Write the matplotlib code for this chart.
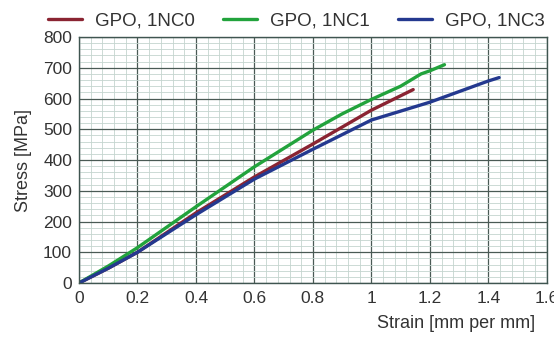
import matplotlib
matplotlib.use("Agg")
import matplotlib.pyplot as plt
from matplotlib.ticker import MultipleLocator

# strain / stress readings per specimen
strain_nc0 = [0, 0.1, 0.2, 0.4, 0.6, 0.8, 1.0, 1.143]
stress_nc0 = [0, 48, 100, 228, 345, 452, 562, 629]

strain_nc1 = [0, 0.1, 0.2, 0.4, 0.6, 0.8, 0.9, 1.0, 1.1, 1.17, 1.2, 1.25]
stress_nc1 = [0, 55, 115, 248, 378, 497, 550, 597, 640, 680, 690, 710]

strain_nc3 = [0, 0.1, 0.2, 0.4, 0.6, 0.8, 1.0, 1.2, 1.4, 1.437]
stress_nc3 = [0, 48, 100, 222, 338, 435, 530, 588, 657, 668]

labels = ["GPO, 1NC0", "GPO, 1NC1", "GPO, 1NC3"]
colors = ["#8a2432", "#22a33c", "#24398f"]

plt.rcParams['font.family'] = ['Liberation Sans', 'DejaVu Sans']

fig = plt.figure(figsize=(5.54, 3.38), dpi=100)
ax = fig.add_axes([0.1426, 0.1627, 0.8444, 0.7278])

for xs, ys, lab, c in zip([strain_nc0, strain_nc1, strain_nc3],
                          [stress_nc0, stress_nc1, stress_nc3], labels, colors):
    ax.plot(xs, ys, color=c, lw=2.4, label=lab, solid_capstyle='round')

ax.set_xlim(0, 1.6)
ax.set_ylim(0, 800)
ax.xaxis.set_major_locator(MultipleLocator(0.2))
ax.xaxis.set_minor_locator(MultipleLocator(0.04))
ax.yaxis.set_major_locator(MultipleLocator(100))
ax.yaxis.set_minor_locator(MultipleLocator(20))
ax.set_xticks([0, 0.2, 0.4, 0.6, 0.8, 1.0, 1.2, 1.4, 1.6],
              ["0", "0.2", "0.4", "0.6", "0.8", "1", "1.2", "1.4", "1.6"])
ax.grid(which='major', color='#4a5a55', lw=0.9)
ax.grid(which='minor', color='#c4d4ce', lw=0.6)
ax.set_axisbelow(True)
ax.tick_params(which='both', length=0, labelsize=12.5, colors='#333333')
ax.tick_params(axis='y', pad=5)
ax.tick_params(axis='x', pad=6)
for s in ax.spines.values():
    s.set_color('#3f5550')
    s.set_linewidth(1.0)

ax.set_xlabel("Strain [mm per mm]", fontsize=13, color='#333333')
ax.xaxis.set_label_coords(0.975, -0.13)
ax.xaxis.label.set_horizontalalignment('right')
ax.set_ylabel("Stress [MPa]", fontsize=13, color='#333333', labelpad=8)

fig.legend(loc='lower center', bbox_to_anchor=(0.535, 0.89), ncol=3, frameon=False,
           fontsize=13.5, handlelength=1.8, columnspacing=1.5, borderaxespad=0,
           handletextpad=0.7, labelcolor='#333333')

fig.savefig("out.png", dpi=100)
